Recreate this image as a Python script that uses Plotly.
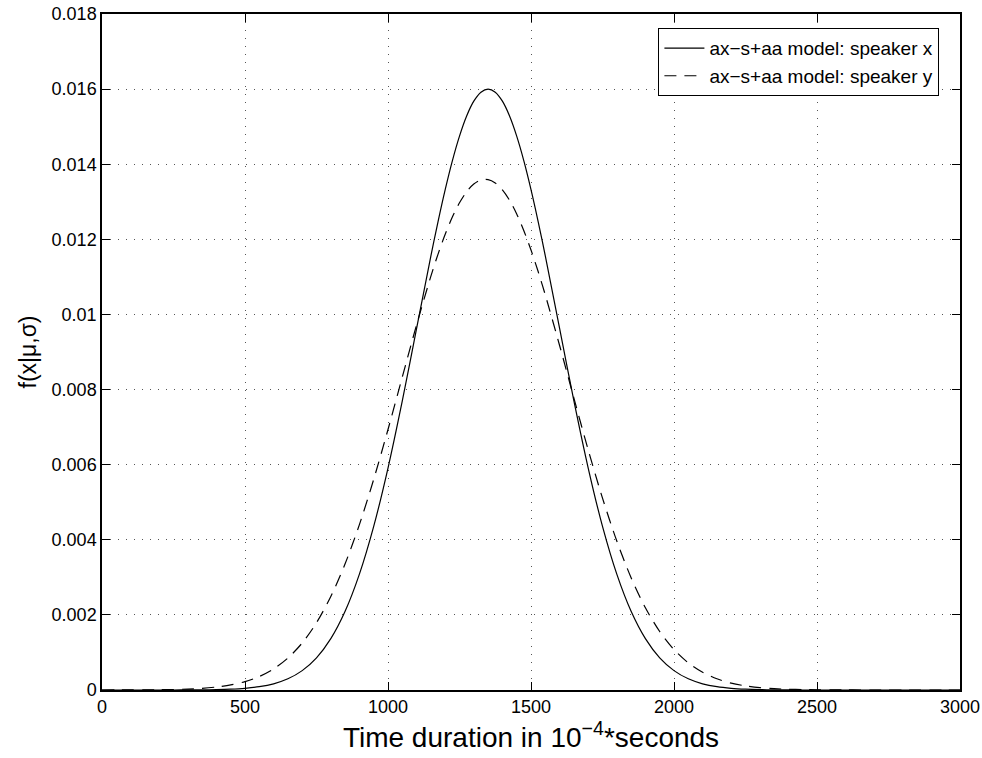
import plotly.graph_objects as go

# x positions (time duration in 1e-4 s)
time_x = [0, 50, 100, 150, 200, 250, 300, 350, 400, 450, 500, 550, 600, 650, 700, 750,
          800, 850, 900, 950, 1000, 1050, 1100, 1150, 1175, 1200, 1225, 1250, 1275, 1300,
          1325, 1350, 1375, 1400, 1425, 1450, 1475, 1500, 1525, 1550, 1600, 1650, 1700,
          1750, 1800, 1850, 1900, 1950, 2000, 2050, 2100, 2150, 2200, 2250, 2300, 2350,
          2400, 2450, 2500, 2550, 2600, 2650, 2700, 2750, 2800, 2850, 2900, 2950, 3000]

# speaker x (solid)
speaker_x = [0, 0, 0, 0, 0, 0, 0.000002, 0.000005, 0.00001, 0.000022, 0.000045, 0.000088,
             0.000165, 0.000298, 0.000516, 0.000857, 0.001368, 0.002096, 0.003085, 0.004357,
             0.005911, 0.007698, 0.009627, 0.011558, 0.012474, 0.013325, 0.014091, 0.01475,
             0.015285, 0.015679, 0.015919, 0.016, 0.015919, 0.015679, 0.015285, 0.01475,
             0.014091, 0.013325, 0.012474, 0.011558, 0.009627, 0.007698, 0.005911, 0.004357,
             0.003085, 0.002096, 0.001368, 0.000857, 0.000516, 0.000298, 0.000165, 0.000088,
             0.000045, 0.000022, 0.00001, 0.000005, 0.000002, 0, 0, 0, 0, 0, 0, 0,
             0, 0, 0, 0, 0]

# speaker y (dashed)
speaker_y = [0.0000004, 0.0000008, 0.0000018, 0.0000036, 0.000007, 0.0000135, 0.000025,
             0.0000451, 0.0000792, 0.000135, 0.000223, 0.000359, 0.00056, 0.00085, 0.001252,
             0.001791, 0.002489, 0.003359, 0.004404, 0.005608, 0.006937, 0.008334, 0.009724,
             0.011021, 0.011606, 0.012133, 0.012592, 0.012973, 0.013269, 0.013474, 0.013582,
             0.013592, 0.013503, 0.013318, 0.01304, 0.012675, 0.01223, 0.011716, 0.011142,
             0.010519, 0.009174, 0.007771, 0.006394, 0.005109, 0.003966, 0.00299, 0.002189,
             0.001557, 0.001076, 0.000722, 0.000471, 0.000298, 0.000183, 0.000109, 0.0000634,
             0.0000357, 0.0000196, 0.0000105, 0.0000054, 0.0000027, 0.0000013, 0.0000006,
             0.0000003, 0, 0, 0, 0, 0, 0]

series_names = ["ax\u2212s+aa model: speaker x", "ax\u2212s+aa model: speaker y"]

x_ticks = [0, 500, 1000, 1500, 2000, 2500, 3000]
y_ticks = [0, 0.002, 0.004, 0.006, 0.008, 0.01, 0.012, 0.014, 0.016, 0.018]
y_tick_labels = ["0", "0.002", "0.004", "0.006", "0.008", "0.01", "0.012", "0.014", "0.016", "0.018"]

FONT = "Liberation Sans, Arial, Helvetica, sans-serif"

fig = go.Figure()
fig.add_trace(go.Scatter(x=time_x, y=speaker_x, mode="lines", name=series_names[0],
                         line=dict(color="black", width=1.2, shape="spline", smoothing=0.8)))
fig.add_trace(go.Scatter(x=time_x, y=speaker_y, mode="lines", name=series_names[1],
                         line=dict(color="black", width=1.2, dash="12px,8px",
                                   shape="spline", smoothing=0.8)))

axis_common = dict(
    showline=True, linecolor="black", linewidth=1.5, mirror="allticks",
    ticks="inside", ticklen=8, tickcolor="black", tickwidth=1,
    showgrid=True, gridcolor="#555555", gridwidth=1, griddash="1px,7px",
    zeroline=False, automargin=False, ticklabeloverflow="allow",
    tickfont=dict(family=FONT, size=18, color="black"),
)

fig.update_xaxes(range=[0, 3000], tickvals=x_ticks, ticktext=[str(v) for v in x_ticks],
                 title=dict(text="Time duration in 10<sup>\u22124</sup>*seconds",
                            font=dict(family=FONT, size=28, color="black"), standoff=3),
                 **axis_common)
fig.update_yaxes(range=[0, 0.018], tickvals=y_ticks, ticktext=y_tick_labels,
                 title=dict(text="f(x|\u03bc,\u03c3)",
                            font=dict(family=FONT, size=23, color="black"), standoff=9),
                 **axis_common)

fig.update_layout(
    width=982, height=758,
    margin=dict(l=102, r=22, t=14, b=68),
    paper_bgcolor="white", plot_bgcolor="white",
    font=dict(family=FONT, color="black"),
    legend=dict(x=0.976, y=0.979, xanchor="right", yanchor="top",
                bgcolor="white", bordercolor="black", borderwidth=1,
                font=dict(family=FONT, size=19, color="black"),
                tracegroupgap=0, itemwidth=40),
    showlegend=True,
)

fig.write_html("out.html", config={"displayModeBar": False},
               post_script="document.body.style.margin='0';document.body.style.overflow='hidden';")
